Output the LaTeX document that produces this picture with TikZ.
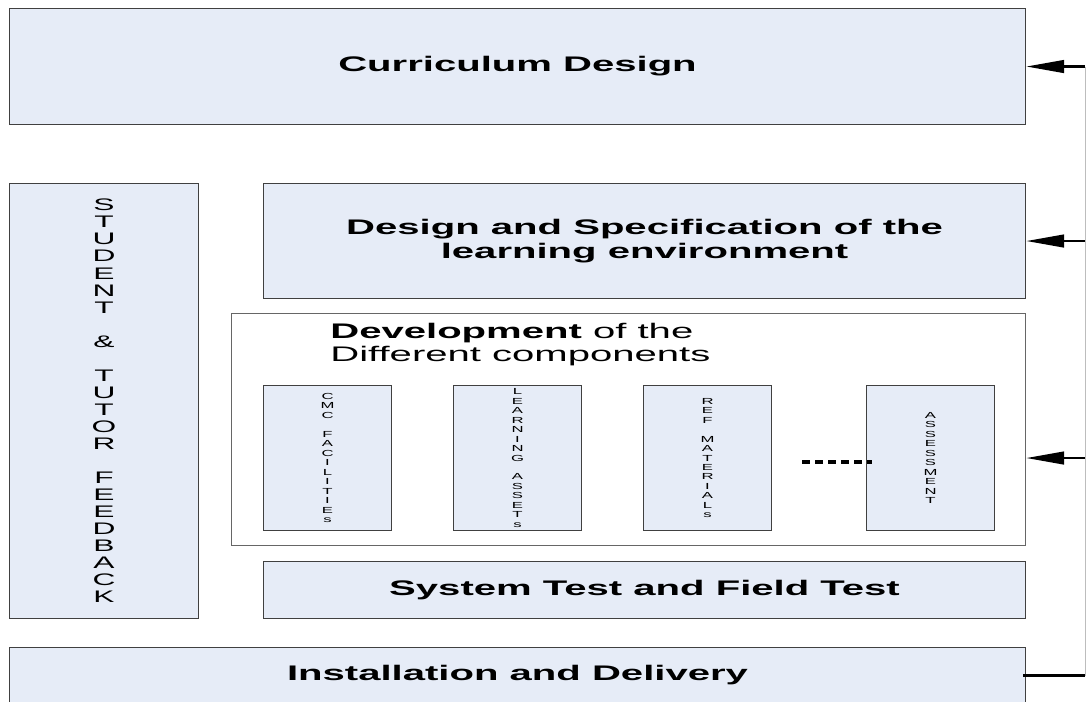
\documentclass[tikz,border=0pt]{standalone}
\usepackage{fontspec}
\setmainfont{Liberation Sans}
\newfontfamily\widefont[FakeStretch=1.9]{Liberation Sans}
\usetikzlibrary{arrows.meta,calc}
\definecolor{boxfill}{HTML}{E6ECF7}
\definecolor{boxline}{HTML}{404040}
\definecolor{railgray}{HTML}{BDBDBD}
\tikzset{
  stagebox/.style={draw=boxline, line width=0.6pt, fill=boxfill, anchor=north west, inner sep=0pt, align=center, font=\widefont\fontsize{12}{13.7}\selectfont\bfseries},
  partbox/.style={draw=boxline, line width=0.6pt, fill=boxfill, anchor=north west, inner sep=0pt, align=center, minimum width=2.56cm, minimum height=2.9cm, font=\widefont\fontsize{5}{5.4}\selectfont},
  feedarrow/.style={-{Triangle[length=0.76cm,width=0.25cm]}, line width=1.6pt},
  dotline/.style={line width=2pt, dash pattern=on 0.16cm off 0.1cm}
}
\begin{document}
\begin{tikzpicture}
\useasboundingbox (0,0) rectangle (21.72,-14.04);
% stages
\node[stagebox, minimum width=20.32cm, minimum height=2.32cm] (curr) at (0.18,-0.16) {Curriculum Design};
\node[stagebox, minimum width=3.78cm, minimum height=8.7cm, font=\widefont\fontsize{9.5}{9.7}\selectfont] (feed) at (0.18,-3.66)
  {S\\T\\U\\D\\E\\N\\T\\[9.7pt]\&\\[9.7pt]T\\U\\T\\O\\R\\[9.7pt]F\\E\\E\\D\\B\\A\\C\\K};
\node[stagebox, minimum width=15.24cm, minimum height=2.3cm] (design) at (5.26,-3.66) {Design and Specification of the\\learning environment};
\node[draw=boxline!80, line width=0.6pt, fill=white, anchor=north west, minimum width=15.88cm, minimum height=4.64cm] (dev) at (4.62,-6.26) {};
\node[anchor=north west, inner sep=0pt, align=left, font=\widefont\fontsize{12}{13.1}\selectfont] (devtitle) at (6.6,-6.46) {\textbf{Development} of the\\Different components};
\node[stagebox, minimum width=15.24cm, minimum height=1.14cm] (systest) at (5.26,-11.22) {System Test and Field Test};
\node[stagebox, minimum width=20.32cm, minimum height=1.12cm] (install) at (0.18,-12.94) {Installation and Delivery};
% components
\node[partbox] (cmc) at (5.26,-7.7) {C\\M\\C\\[5.4pt]F\\A\\C\\I\\L\\I\\T\\I\\E\\s};
\node[partbox] (learn) at (9.06,-7.7) {L\\E\\A\\R\\N\\I\\N\\G\\[5.4pt]A\\S\\S\\E\\T\\s};
\node[partbox] (ref) at (12.86,-7.7) {R\\E\\F\\[5.4pt]M\\A\\T\\E\\R\\I\\A\\L\\s};
\node[partbox] (assess) at (17.32,-7.7) {A\\S\\S\\E\\S\\S\\M\\E\\N\\T};
\coordinate (dotsL) at (16.04,-9.24);
\draw[dotline] (dotsL) -- ($(assess.west |- dotsL)+(0.12,0)$);
% feedback rail
\coordinate (rail) at (21.7,0);
\coordinate (railA) at (rail |- curr.east);
\coordinate (railB) at (rail |- design.east);
\coordinate (railC) at (rail |- cmc.center);
\coordinate (railD) at (rail |- install.east);
\draw[railgray, line width=0.5pt] (railA) -- (railD);
\draw[feedarrow] (railA) -- (curr.east);
\draw[feedarrow] (railB) -- (design.east);
\draw[feedarrow] (railC) -- (dev.east |- railC);
\draw[line width=1.6pt] (railD) -- ([xshift=-0.06cm]install.east);
\end{tikzpicture}
\end{document}
